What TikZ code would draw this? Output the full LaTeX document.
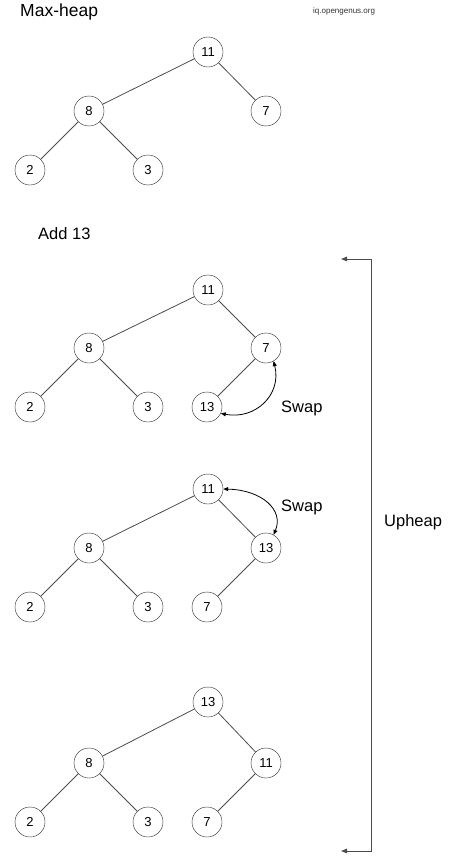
\documentclass[tikz,border=0pt]{standalone}
\usepackage{fontspec}
\setmainfont{Liberation Sans}
\usetikzlibrary{arrows.meta}
\begin{document}
\begin{tikzpicture}[x=1pt,y=-1pt,
  hnode/.style={draw=black!85,circle,minimum size=30pt,inner sep=0pt,font=\fontsize{13}{13}\selectfont},
  edge/.style={draw=black!70,line width=0.8pt},
  lbl/.style={font=\fontsize{16.5}{16.5}\selectfont,inner sep=0pt},
  swaparr/.style={draw=black,line width=0.8pt,{Triangle[length=5pt,width=4pt]}-{Triangle[length=5pt,width=4pt]}},
  brk/.style={draw=black!70,line width=0.9pt,-{Triangle[length=6pt,width=4.5pt]}}]
\useasboundingbox (0,0) rectangle (474,859);
% titles
\node[lbl,anchor=west,font=\fontsize{17.5}{17.5}\selectfont] (t1) at (20,12) {Max-heap};
\node[anchor=west,inner sep=0pt,font=\fontsize{8}{8}\selectfont,text=black!80] (wm) at (313,11) {iq.opengenus.org};
\node[lbl,anchor=west] (t2) at (38,234) {Add 13};
% tree 1
\node[hnode] (a1) at (208,52) {11};
\node[hnode] (a2) at (89,111) {8};
\node[hnode] (a3) at (266,111) {7};
\node[hnode] (a4) at (30,170) {2};
\node[hnode] (a5) at (148,170) {3};
\draw[edge] (a1)--(a2) (a1)--(a3) (a2)--(a4) (a2)--(a5);
% tree 2
\node[hnode] (b1) at (208,290) {11};
\node[hnode] (b2) at (89,348) {8};
\node[hnode] (b3) at (266,348) {7};
\node[hnode] (b4) at (30,407) {2};
\node[hnode] (b5) at (148,407) {3};
\node[hnode] (b6) at (207,407) {13};
\draw[edge] (b1)--(b2) (b1)--(b3) (b2)--(b4) (b2)--(b5) (b3)--(b6);
\draw[swaparr] (b6.-25) .. controls (255,420) and (282,395) .. (b3.-60);
\node[lbl,anchor=west] (s1) at (281,408) {Swap};
% tree 3
\node[hnode] (c1) at (208,489) {11};
\node[hnode] (c2) at (89,548) {8};
\node[hnode] (c3) at (266,548) {13};
\node[hnode] (c4) at (30,607) {2};
\node[hnode] (c5) at (148,607) {3};
\node[hnode] (c6) at (207,607) {7};
\draw[edge] (c1)--(c2) (c1)--(c3) (c2)--(c4) (c2)--(c5) (c3)--(c6);
\draw[swaparr] (c1.east) .. controls (262,490) and (284,510) .. (c3.60);
\node[lbl,anchor=west] (s2) at (281,507) {Swap};
% tree 4
\node[hnode] (d1) at (208,702) {13};
\node[hnode] (d2) at (89,763) {8};
\node[hnode] (d3) at (266,763) {11};
\node[hnode] (d4) at (30,822) {2};
\node[hnode] (d5) at (148,822) {3};
\node[hnode] (d6) at (207,822) {7};
\draw[edge] (d1)--(d2) (d1)--(d3) (d2)--(d4) (d2)--(d5) (d3)--(d6);
% upheap bracket
\coordinate (u1) at (341,259);
\coordinate (u2) at (341,851);
\draw[brk] (371,555) |- (u1);
\draw[brk] (371,555) |- (u2);
\node[lbl,anchor=west] (up) at (384,522) {Upheap};
\end{tikzpicture}
\end{document}
